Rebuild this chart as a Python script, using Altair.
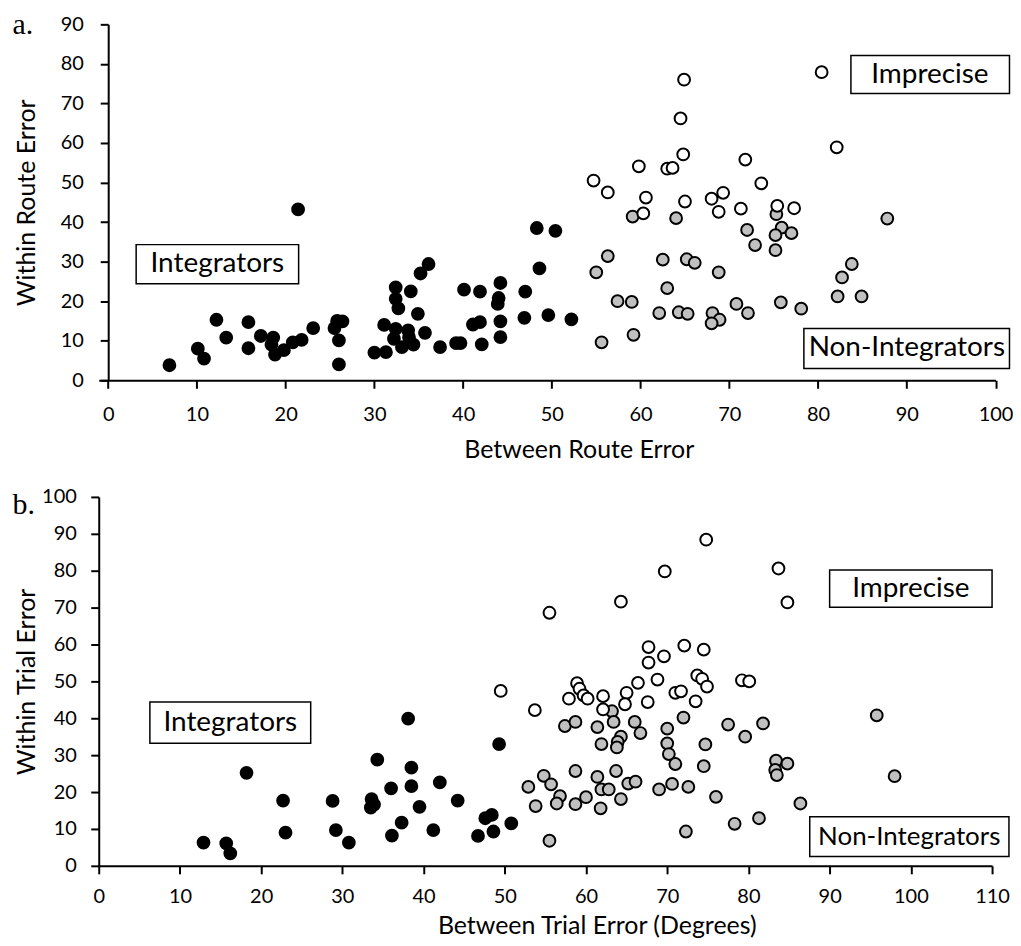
import altair as alt
import pandas as pd

# ---------------- Panel a: Between / Within Route Error ----------------
a_int_x = [6.9, 10.1, 10.8, 12.2, 13.3, 15.8, 15.8, 17.2, 18.6, 18.4, 18.8, 19.8, 20.8, 21.8, 23.1, 21.4,
           25.5, 25.8, 26.4, 26.0, 26.0, 30.0, 31.3, 31.1, 32.4, 32.4, 32.7, 32.4, 32.2, 33.1, 33.8, 33.9,
           34.4, 34.1, 34.9, 35.7, 35.2, 36.1, 37.4, 39.2, 39.7, 40.1, 41.1, 41.9, 41.9, 42.1, 44.2, 44.0,
           43.9, 44.2, 44.2, 47.0, 46.9, 48.3, 48.6, 49.6, 50.4, 52.2]
a_int_y = [3.8, 8.0, 5.5, 15.3, 10.8, 14.7, 8.1, 11.2, 10.8, 9.0, 6.5, 7.6, 9.6, 10.2, 13.2, 43.2,
           13.2, 15.0, 14.9, 10.1, 4.0, 7.0, 7.1, 14.0, 23.5, 20.6, 18.2, 13.0, 10.5, 8.4, 12.6, 10.9,
           9.0, 22.5, 16.8, 12.0, 27.0, 29.4, 8.4, 9.4, 9.4, 22.9, 14.1, 14.7, 22.4, 9.1, 24.6, 20.8,
           19.3, 14.9, 10.9, 22.4, 15.8, 38.5, 28.3, 16.5, 37.8, 15.4]
a_imp_x = [64.9, 64.5, 64.8, 59.8, 63.0, 63.6, 54.7, 56.3, 60.6, 60.3, 65.0, 71.8, 73.6, 68.0, 69.3,
           68.8, 71.3, 75.4, 77.3, 80.4, 82.1]
a_imp_y = [76.0, 66.2, 57.1, 54.1, 53.5, 53.7, 50.5, 47.5, 46.2, 42.2, 45.2, 55.8, 49.8, 45.9, 47.4,
           42.6, 43.4, 44.1, 43.5, 77.9, 58.9]
a_non_x = [59.1, 64.0, 56.3, 55.0, 62.5, 65.2, 66.1, 68.8, 63.0, 57.4, 59.0, 62.1, 64.3, 65.3, 68.1,
           68.9, 68.0, 70.8, 72.1, 55.6, 59.2, 72.0, 72.9, 75.3, 75.9, 75.2, 77.0, 75.2, 75.8, 78.1,
           87.8, 83.8, 82.7, 82.2, 84.9]
a_non_y = [41.4, 41.0, 31.4, 27.3, 30.5, 30.6, 29.7, 27.3, 23.3, 20.0, 19.8, 17.0, 17.2, 16.8, 17.0,
           15.3, 14.4, 19.3, 17.0, 9.6, 11.5, 38.0, 34.2, 42.0, 38.6, 36.7, 37.2, 32.9, 19.7, 18.1,
           40.9, 29.4, 26.0, 21.2, 21.2]

# ---------------- Panel b: Between / Within Trial Error ----------------
b_int_x = [12.9, 15.7, 16.2, 18.2, 22.7, 23.0, 28.8, 29.2, 30.8, 33.6, 33.9, 33.5, 34.3, 36.0, 36.1,
           37.3, 38.1, 38.5, 38.5, 39.5, 41.2, 42.0, 44.2, 46.7, 47.6, 48.4, 48.6, 49.3, 50.8]
b_int_y = [6.3, 6.1, 3.4, 25.2, 17.7, 9.0, 17.6, 9.7, 6.3, 18.1, 16.6, 15.8, 28.8, 21.0, 8.2,
           11.7, 39.9, 26.6, 21.6, 16.0, 9.7, 22.6, 17.7, 8.1, 12.9, 13.8, 9.3, 33.0, 11.5]
b_imp_x = [49.5, 53.7, 57.9, 58.9, 59.2, 59.7, 60.2, 62.1, 62.1, 65.0, 64.8, 66.4, 68.8, 67.6, 71.0,
           71.7, 73.7, 74.3, 74.9, 73.5, 79.2, 80.1, 67.7, 67.7, 69.6, 72.1, 74.5, 64.3, 69.7, 74.8,
           83.7, 84.8, 55.5]
b_imp_y = [47.4, 42.2, 45.3, 49.5, 48.0, 46.2, 45.3, 46.0, 42.4, 46.9, 43.8, 49.6, 50.5, 44.4, 46.9,
           47.3, 51.6, 50.7, 48.6, 44.6, 50.3, 50.0, 59.3, 55.1, 56.8, 59.7, 58.6, 71.6, 79.8, 88.4,
           80.6, 71.4, 68.6]
b_non_x = [52.9, 54.8, 55.7, 56.8, 56.4, 53.8, 55.5, 57.4, 58.7, 58.7, 58.7, 61.4, 63.2, 63.4, 66.0,
           66.7, 61.9, 64.3, 63.9, 63.8, 70.0, 72.0, 70.0, 70.2, 71.0, 74.7, 74.5, 77.5, 79.6, 81.8,
           61.4, 63.7, 61.9, 62.8, 65.2, 66.1, 64.3, 61.8, 60.0, 69.0, 70.6, 72.6, 76.0, 72.3, 78.3,
           81.3, 83.4, 83.3, 83.5, 84.8, 95.8, 98.0, 86.4]
b_non_y = [21.4, 24.4, 22.1, 18.9, 16.9, 16.2, 6.8, 37.9, 39.0, 25.7, 16.7, 37.6, 41.9, 39.0, 39.0,
           36.0, 33.0, 35.0, 33.6, 32.1, 37.2, 40.2, 33.2, 30.3, 27.6, 32.9, 27.0, 38.3, 35.0, 38.6,
           24.1, 25.7, 20.7, 20.7, 22.3, 22.8, 18.1, 15.6, 18.6, 20.7, 22.2, 21.4, 18.7, 9.3, 11.4,
           12.9, 28.5, 26.0, 24.6, 27.7, 40.8, 24.3, 16.9]

groups = ["Integrators", "Imprecise", "Non-Integrators"]
fills = ["#000000", "#ffffff", "#c0c0c0"]

a_ticks_x = list(range(0, 101, 10))
a_ticks_y = list(range(0, 91, 10))
b_ticks_x = list(range(0, 111, 10))
b_ticks_y = list(range(0, 101, 10))

# boxed annotation labels (data units)
a_lab_text = ["Integrators", "Imprecise", "Non-Integrators"]
a_lab_x = [12.3, 92.6, 90.0]
a_lab_y = [29.35, 77.3, 8.05]
a_box_x1 = [3.15, 83.7, 78.4]
a_box_x2 = [21.46, 101.57, 101.57]
a_box_y1 = [24.4, 72.5, 3.0]
a_box_y2 = [34.3, 82.1, 13.1]

b_lab_text = ["Integrators", "Imprecise", "Non-Integrators"]
b_lab_x = [16.2, 100.0, 99.8]
b_lab_y = [38.8, 75.15, 7.9]
b_box_x1 = [6.3, 90.0, 87.55]
b_box_x2 = [26.1, 110.0, 112.08]
b_box_y1 = [33.2, 70.1, 2.5]
b_box_y2 = [44.4, 80.2, 13.3]

FONT = "Lato"


def points_df(ix, iy, mx, my, nx, ny):
    rows = []
    for g, xs, ys in [("Non-Integrators", nx, ny), ("Imprecise", mx, my), ("Integrators", ix, iy)]:
        for x, y in zip(xs, ys):
            rows.append({"x": x, "y": y, "group": g})
    return pd.DataFrame(rows)


def panel(pts, labs, xdom, ydom, xt, yt, w, h, xtitle, ytitle, tag, o):
    xs = alt.Scale(domain=xdom, nice=False, zero=False)
    ys = alt.Scale(domain=ydom, nice=False, zero=False)
    common = dict(grid=False, tickSize=8, tickWidth=2, domainWidth=2, domainColor="black",
                  tickColor="black", labelColor="black", labelFont=FONT, labelFontSize=20,
                  titleFont=FONT, titleFontSize=25, titleFontWeight="normal", titleColor="black",
                  labelFlush=False, labelOverlap=False, titleBaseline="alphabetic")
    xaxis = alt.Axis(values=xt, title=xtitle, labelPadding=o["xlp"], titleX=o["xtx"],
                     titleY=o["xty"], titleAlign="center", **common)
    yaxis = alt.Axis(values=yt, title=ytitle, labelPadding=o["ylp"], titleX=o["ytx"],
                     titleY=h / 2, titleAngle=-90, titleAlign="center", offset=o["yoff"], **common)

    pts_layer = alt.Chart(pts).mark_circle(size=140, stroke="black", strokeWidth=2, opacity=1).encode(
        x=alt.X("x:Q", scale=xs, axis=xaxis),
        y=alt.Y("y:Q", scale=ys, axis=yaxis),
        fill=alt.Fill("group:N", scale=alt.Scale(domain=groups, range=fills), legend=None),
    )
    boxes = alt.Chart(labs).mark_rect(fill="white", stroke="black", strokeWidth=1.5).encode(
        x=alt.X("x1:Q", scale=xs, axis=xaxis), x2="x2:Q",
        y=alt.Y("y1:Q", scale=ys, axis=yaxis), y2="y2:Q",
    )
    texts = alt.Chart(labs).mark_text(font=FONT, color="black", align="center",
                                      baseline="middle").encode(
        x=alt.X("lx:Q", scale=xs, axis=xaxis),
        y=alt.Y("ly:Q", scale=ys, axis=yaxis),
        text="text:N",
        size=alt.condition("datum.text == 'Non-Integrators'", alt.value(o["nifs"]), alt.value(28)),
    )
    tag_layer = alt.Chart(pd.DataFrame({"t": [tag]})).mark_text(
        font="Liberation Serif", fontSize=30, color="black", align="left", baseline="alphabetic"
    ).encode(x=alt.value(o["tagx"]), y=alt.value(o["tagy"]), text="t:N")
    return alt.layer(pts_layer, boxes, texts, tag_layer).properties(width=w, height=h)


pa = points_df(a_int_x, a_int_y, a_imp_x, a_imp_y, a_non_x, a_non_y)
pb = points_df(b_int_x, b_int_y, b_imp_x, b_imp_y, b_non_x, b_non_y)
la = pd.DataFrame({"text": a_lab_text, "lx": a_lab_x, "ly": a_lab_y,
                   "x1": a_box_x1, "x2": a_box_x2, "y1": a_box_y1, "y2": a_box_y2})
lb = pd.DataFrame({"text": b_lab_text, "lx": b_lab_x, "ly": b_lab_y,
                   "x1": b_box_x1, "x2": b_box_x2, "y1": b_box_y1, "y2": b_box_y2})

# panel a: the plot box starts a little left of x=0 so that both panels share one left edge
chart_a = panel(pa, la, [-1.067, 100], [0, 90], a_ticks_x, a_ticks_y, 899.5, 357,
                "Between Route Error", "Within Route Error", "a.",
                dict(xlp=16, xtx=481.5, xty=77, ylp=17, ytx=-74, yoff=-9.5, tagx=-86.5, tagy=10,
                     nifs=28))
chart_b = panel(pb, lb, [0, 110], [0, 100], b_ticks_x, b_ticks_y, 896, 370,
                "Between Trial Error (Degrees)", "Within Trial Error", "b.",
                dict(xlp=13, xtx=499.5, xty=68, ylp=14.5, ytx=-64.5, yoff=0, tagx=-86.5, tagy=17,
                     nifs=26))

chart = alt.vconcat(chart_a, chart_b, spacing=25).properties(
    padding={"left": 4, "top": 1, "right": 0, "bottom": -2}
).configure_view(strokeWidth=0)

chart.save("out.html", embed_options={"renderer": "svg", "actions": False})
